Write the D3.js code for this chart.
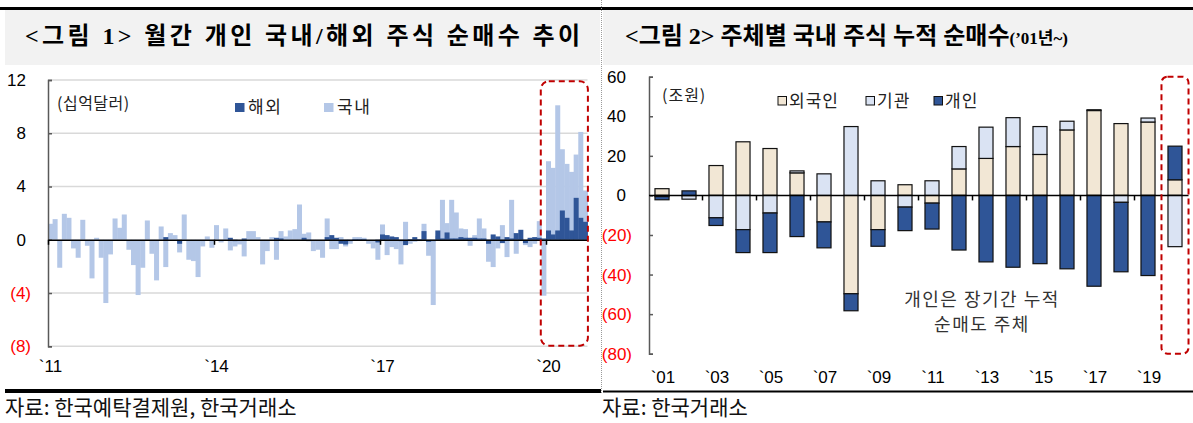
<!DOCTYPE html>
<html>
<head>
<meta charset="utf-8">
<script src="https://cdn.jsdelivr.net/npm/d3@7"></script>
<style>
  body { margin: 0; background: #fff; }
  svg { display: block; }
  text { font-family: "Liberation Sans", Arial, "Noto Sans CJK KR", sans-serif; }
</style>
</head>
<body>
<svg id="chart" width="1193" height="423"></svg>
<script>
// <그림 1> 월간 개인 순매수 (십억달러), 2011.01 ~ 2020.09
const years = ['2011', '2012', '2013', '2014', '2015', '2016', '2017', '2018', '2019', '2020'];
const domestic = [
  1.2, 1.55, -2.1, 1.95, 1.65, -0.65, -1.35, 1.5, -0.45, -2.9, 0.15, -1.35,
  -4.75, -1.1, 1.6, 0.9, 1.9, -0.75, -1.9, -4.15, -2.1, 1.45, -1.05, -3.05,
  1.0, -2.05, 0.5, 0.35, -0.95, 1.9, -1.5, -1.6, -2.8, -0.5, 0.25, -0.6,
  1.1, -0.2, 0.85, -0.8, -0.5, -0.35, -1.25, 0.65, 0.65, 0.2, -1.85, -0.85,
  0.2, -1.5, 0.65, 0.25, 0.7, 0.8, 2.65, 0.45, 0.55, -0.85, -0.75, -1.35,
  1.6, -0.7, -0.7, 0.2, -0.5, -0.3, 0.2, 0.2, 0.15, -0.3, -0.65, -1.5,
  1.15, -1.15, -0.55, -0.7, -1.85, 1.35, -0.3, -0.15, -0.1, 1.2, -1.2, -4.9,
  0.3, 3.0, 1.25, 3.0, 2.05, 0.85, 0.8, -0.45, 0.35, 1.6, 0.85, -1.65,
  -2.05, -0.65, 1.1, -1.3, 3.0, -1.05, 0.1, -0.4, -0.55, -0.3, 1.4, -4.2,
  5.9, 5.4, 10.1, 6.8, 5.7, 5.1, 6.4, 8.1, 3.7
];
const overseas = [
  0, 0, 0, 0, 0, 0, 0, 0, 0, 0, 0, 0,
  0, 0, 0, 0, 0, 0, 0, 0, 0, 0, 0, 0,
  0, 0.2, 0, 0, -0.3, 0, 0, 0, 0, 0, 0, 0,
  0, 0, 0, 0.15, -0.1, 0, 0.1, 0, 0, 0, 0, 0,
  0, 0.15, 0.1, 0, 0, 0, 0, 0.15, -0.1, 0, 0, 0,
  0.2, 0.35, 0.15, -0.3, -0.35, -0.1, 0.05, 0.05, 0.05, 0, 0, -0.2,
  0.4, 0.35, 0.25, 0.2, -0.1, -0.4, 0.05, 0.2, 0.05, 0.65, -0.15, -0.1,
  0.7, 0.1, 0.55, 0.1, 0.1, 0.2, 0.15, 0.15, 0.15, 0.1, 0.1, -0.3,
  0.4, 0.25, -0.25, 0.2, 0.1, 0.5, 0.75, -0.25, 0.15, 0.2, 0.15, 0.1,
  0.7, 0.4, 0.7, 2.2, 1.65, 0.7, 3.15, 1.65, 1.35
];
const leftTicks = [-8, -4, 0, 4, 8, 12];
const leftLabelYears = ['2011', '2014', '2017', '2020'];

// <그림 2> 주체별 누적 순매수 (조원), 2001 ~ 2020
const periods = ['`01', '`02', '`03', '`04', '`05', '`06', '`07', '`08', '`09', '`10',
                 '`11', '`12', '`13', '`14', '`15', '`16', '`17', '`18', '`19', '`20'];
const foreign     = [3.4, -0.1, 15.1, 27.1, 23.7, 11.4, -13.4, -49.7, -17.3, 5.4,
                     -3.9, 13.4, 18.7, 24.7, 20.7, 33.1, 42.9, 36.3, 37.1, 7.9];
const institution = [-0.6, -1.8, -11.3, -17.3, -8.9, 1.0, 10.9, 34.8, 7.4, -5.9,
                     7.4, 11.3, 15.8, 14.6, 14.1, 4.4, 0.4, -3.5, 2.0, -25.9];
const individual  = [-1.6, 2.3, -3.9, -11.6, -20.0, -20.8, -13.1, -8.6, -8.4, -11.9,
                     -13.1, -27.6, -33.6, -36.3, -34.5, -37.1, -45.9, -35.1, -40.5, 17.0];
const rightTicks = [-80, -60, -40, -20, 0, 20, 40, 60];

const svg = d3.select('#chart');
const fmt = d => d < 0 ? `(${-d})` : `${d}`;
const dark = '#2f5597';

// ---- frame: title bands, rules, divider
svg.append('rect').attr('x', 0).attr('y', 7).attr('width', 1193).attr('height', 3).attr('fill', '#000');
svg.append('rect').attr('x', 5).attr('y', 10).attr('width', 595).attr('height', 55).attr('fill', '#f2f2f2');
svg.append('rect').attr('x', 603).attr('y', 10).attr('width', 590).attr('height', 55).attr('fill', '#f2f2f2');
svg.append('rect').attr('x', 5).attr('y', 389).attr('width', 596).attr('height', 4).attr('fill', '#000');
svg.append('rect').attr('x', 603).attr('y', 390.5).attr('width', 590).attr('height', 2).attr('fill', '#000');
svg.append('line').attr('x1', 601.5).attr('x2', 601.5).attr('y1', 0).attr('y2', 393)
  .attr('stroke', '#9a9a9a').attr('stroke-dasharray', '1,1');

const titleFont = '"Liberation Serif", "Noto Sans CJK KR", serif';
svg.append('text').attr('x', 25).attr('y', 44)
  .style('font-family', titleFont).style('font-size', '24px').style('font-weight', 'bold')
  .style('letter-spacing', '3.4px')
  .text('<그림 1> 월간 개인 국내/해외 주식 순매수 추이');
const t2 = svg.append('text').attr('x', 625).attr('y', 44)
  .style('font-family', titleFont).style('font-size', '24px').style('font-weight', 'bold');
t2.append('tspan').text('<그림 2> 주체별 국내 주식 누적 순매수');
t2.append('tspan').style('font-size', '17px').text('(’01년~)');

const srcFont = '"Noto Sans CJK KR", sans-serif';
svg.append('text').attr('x', 5).attr('y', 415).style('font-family', srcFont)
  .style('font-size', '21px').attr('fill', '#111').text('자료: 한국예탁결제원, 한국거래소');
svg.append('text').attr('x', 602).attr('y', 415).style('font-family', srcFont)
  .style('font-size', '21px').attr('fill', '#111').text('자료: 한국거래소');

// ---- Chart 1
const months = years.flatMap(y => d3.range(1, 13).map(m => `${y}-${m}`)).slice(0, domestic.length);
const xM = d3.scaleBand().domain(months).range([48, 587.5]).padding(0);
const yL = d3.scaleLinear().domain([-8, 12]).range([346.3, 80]);
const g1 = svg.append('g');

g1.selectAll('line.grid').data(leftTicks.filter(d => d !== 0)).enter().append('line')
  .attr('x1', 48).attr('x2', 587.5).attr('y1', d => yL(d)).attr('y2', d => yL(d))
  .attr('stroke', '#d9d9d9').attr('stroke-width', 1.5);

g1.selectAll('rect.dom').data(domestic).enter().append('rect')
  .attr('x', (d, i) => xM(months[i])).attr('width', xM.bandwidth() + 0.4)
  .attr('y', d => yL(Math.max(0, d))).attr('height', d => Math.abs(yL(d) - yL(0)))
  .attr('fill', '#b4c7e7');
g1.selectAll('rect.ovs').data(overseas).enter().append('rect')
  .attr('x', (d, i) => xM(months[i])).attr('width', xM.bandwidth() + 0.4)
  .attr('y', d => yL(Math.max(0, d))).attr('height', d => Math.abs(yL(d) - yL(0)))
  .attr('fill', dark);

// y axis: line + inside ticks, labels outside
g1.append('g').attr('transform', 'translate(48,0)')
  .call(d3.axisRight(yL).tickValues(leftTicks).tickSize(4).tickFormat(''))
  .call(g => g.select('.domain').attr('stroke', '#595959').attr('stroke-width', 1.5))
  .call(g => g.selectAll('.tick line').attr('stroke', '#595959').attr('stroke-width', 1.5));
g1.append('g').attr('transform', 'translate(48,0)')
  .call(d3.axisLeft(yL).tickValues(leftTicks).tickSize(0).tickPadding(17).tickFormat(fmt))
  .call(g => g.select('.domain').remove())
  .call(g => g.selectAll('text')
    .style('font-size', '17px')
    .attr('fill', d => d < 0 ? '#ff0000' : '#000')
    .attr('dx', d => d < 0 ? 0 : -5));

// x axis at zero
const xIdx = d3.scaleLinear().domain([0, months.length]).range([48, 587.5]);
g1.append('g').attr('transform', `translate(0,${yL(0)})`)
  .call(d3.axisBottom(xIdx)
    .tickValues(leftLabelYears.map(y => months.indexOf(`${y}-1`)))
    .tickSize(5).tickSizeOuter(0)
    .tickFormat(i => '`' + months[i].slice(2, 4)))
  .call(g => g.select('.domain').attr('stroke', '#000').attr('stroke-width', 1.5))
  .call(g => g.selectAll('.tick line').attr('stroke', '#000').attr('stroke-width', 1.5))
  .call(g => g.selectAll('text').style('font-size', '17px').attr('fill', '#000')
    .attr('y', 372 - yL(0)).attr('dy', 0).attr('dx', 2));

// legend
g1.append('text').attr('x', 57).attr('y', 109).style('font-size', '16px').attr('fill', '#222')
  .style('font-family', srcFont).style('letter-spacing', '0.5px').text('(십억달러)');
[{ name: '해외', color: dark, x: 235 }, { name: '국내', color: '#b4c7e7', x: 324 }].forEach(l => {
  g1.append('rect').attr('x', l.x).attr('y', 103).attr('width', 9.5).attr('height', 9).attr('fill', l.color);
  g1.append('text').attr('x', l.x + 13).attr('y', 113).style('font-size', '17px').attr('fill', '#222')
    .style('font-family', srcFont).style('letter-spacing', '1.5px').text(l.name);
});

// highlight 2020
g1.append('rect')
  .attr('x', xM(months[107]) - 0.6).attr('y', yL(11.9))
  .attr('width', xM.range()[1] + 1 - xM(months[107])).attr('height', yL(-7.95) - yL(11.9))
  .attr('rx', 8).attr('fill', 'none').attr('stroke', '#c00000').attr('stroke-width', 2)
  .attr('stroke-dasharray', '6,4');

// ---- Chart 2
const keys = ['외국인', '기관', '개인'];
const colors = { '외국인': '#f2e7d5', '기관': '#dae3f3', '개인': dark };
const table = periods.map((p, i) => ({ period: p, '외국인': foreign[i], '기관': institution[i], '개인': individual[i] }));
const series = d3.stack().keys(keys).offset(d3.stackOffsetDiverging)(table);

const xR = d3.scaleBand().domain(periods).range([648.5, 1188.5]).paddingInner(0.48).paddingOuter(0.24);
const yR = d3.scaleLinear().domain([-80, 60]).range([353.7, 76.7]);
const g2 = svg.append('g');

g2.selectAll('g.s').data(series).enter().append('g')
  .attr('fill', s => colors[s.key])
  .selectAll('rect').data(s => s).enter().append('rect')
  .attr('x', d => xR(d.data.period)).attr('width', xR.bandwidth())
  .attr('y', d => yR(d[1])).attr('height', d => Math.max(0, yR(d[0]) - yR(d[1])))
  .attr('stroke', '#111').attr('stroke-width', 1.2);

g2.append('g').attr('transform', 'translate(649,0)')
  .call(d3.axisRight(yR).tickValues(rightTicks).tickSize(4).tickFormat(''))
  .call(g => g.select('.domain').attr('stroke', '#595959').attr('stroke-width', 1.5))
  .call(g => g.selectAll('.tick line').attr('stroke', '#595959').attr('stroke-width', 1.5));
g2.append('g').attr('transform', 'translate(649,0)')
  .call(d3.axisLeft(yR).tickValues(rightTicks).tickSize(0).tickPadding(17).tickFormat(fmt))
  .call(g => g.select('.domain').remove())
  .call(g => g.selectAll('text')
    .style('font-size', '17px')
    .attr('fill', d => d < 0 ? '#ff0000' : '#000')
    .attr('dx', d => d < 0 ? 0 : -6));

// category axis at zero: boundary ticks every two years, labels below
const step = xR.step();
const boundaries = d3.range(2, periods.length, 2).map(k => xR.range()[0] + k * step);
g2.append('line').attr('x1', 649).attr('x2', xR.range()[1]).attr('y1', yR(0)).attr('y2', yR(0))
  .attr('stroke', '#000').attr('stroke-width', 1.5);
g2.selectAll('line.tk').data(boundaries).enter().append('line')
  .attr('x1', d => d).attr('x2', d => d).attr('y1', yR(0)).attr('y2', yR(0) + 5)
  .attr('stroke', '#000').attr('stroke-width', 1.5);
g2.selectAll('text.xl').data(periods.filter((p, i) => i % 2 === 0)).enter().append('text')
  .attr('x', d => xR(d) + xR.bandwidth() / 2 + 1).attr('y', 383)
  .attr('text-anchor', 'middle').style('font-size', '17px').text(d => d);

// legend
g2.append('text').attr('x', 662).attr('y', 101).style('font-size', '16px').attr('fill', '#222')
  .style('font-family', srcFont).style('letter-spacing', '1px').text('(조원)');
[{ k: '외국인', x: 778 }, { k: '기관', x: 866 }, { k: '개인', x: 934 }].forEach(l => {
  g2.append('rect').attr('x', l.x).attr('y', 96.5).attr('width', 8.5).attr('height', 8.5)
    .attr('fill', colors[l.k]).attr('stroke', '#111').attr('stroke-width', 1);
  g2.append('text').attr('x', l.x + 11).attr('y', 107).style('font-size', '17px').attr('fill', '#222')
    .style('font-family', srcFont).style('letter-spacing', '1px').text(l.k);
});

// annotation
const note = g2.append('text').attr('text-anchor', 'middle').style('font-size', '18px')
  .style('font-family', srcFont).style('letter-spacing', '1.5px').attr('fill', '#333');
note.append('tspan').attr('x', 982).attr('y', 306).text('개인은 장기간 누적');
note.append('tspan').attr('x', 982).attr('y', 331).text('순매도 주체');

// highlight 2020
g2.append('rect')
  .attr('x', xR('`20') - 6.5).attr('y', yR(60))
  .attr('width', xR.bandwidth() + 13).attr('height', yR(-80) - yR(60))
  .attr('rx', 6).attr('fill', 'none').attr('stroke', '#c00000').attr('stroke-width', 2)
  .attr('stroke-dasharray', '6,4');
</script>
</body>
</html>
